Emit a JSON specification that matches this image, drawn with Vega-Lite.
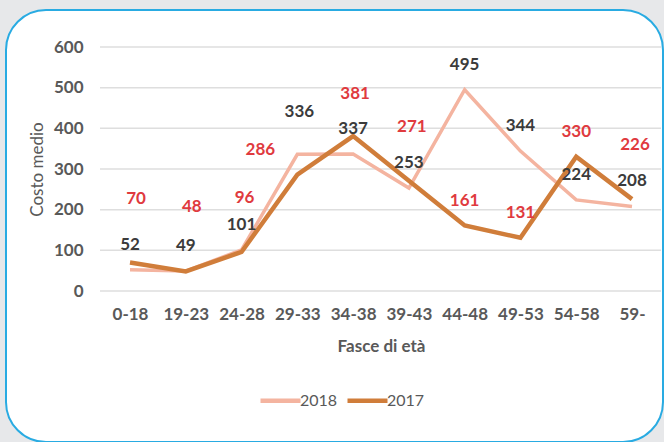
{
  "$schema": "https://vega.github.io/schema/vega-lite/v6.json",
  "autosize": {"type": "none"},
  "padding": {"left": 6, "top": 10, "right": 1, "bottom": 0},
  "width": 657,
  "height": 432,
  "background": "#e7e8ea",
  "config": {
    "view": {"fill": "white", "stroke": "#29abe2", "strokeWidth": 2, "cornerRadius": 40},
    "font": "Lato",
    "axis": {"grid": false, "domain": false, "ticks": false, "tickSize": 0, "labelFont": "Lato", "labelFontWeight": "bold", "labelFontSize": 17, "labelColor": "#595959", "titleFont": "Lato", "titleFontSize": 17, "titleColor": "#595959"}
  },
  "data": {
    "values": [
      {"eta": "0-18", "anno": "2018", "costo": 52},
      {"eta": "19-23", "anno": "2018", "costo": 49},
      {"eta": "24-28", "anno": "2018", "costo": 101},
      {"eta": "29-33", "anno": "2018", "costo": 336},
      {"eta": "34-38", "anno": "2018", "costo": 337},
      {"eta": "39-43", "anno": "2018", "costo": 253},
      {"eta": "44-48", "anno": "2018", "costo": 495},
      {"eta": "49-53", "anno": "2018", "costo": 344},
      {"eta": "54-58", "anno": "2018", "costo": 224},
      {"eta": "59-", "anno": "2018", "costo": 208},
      {"eta": "0-18", "anno": "2017", "costo": 70},
      {"eta": "19-23", "anno": "2017", "costo": 48},
      {"eta": "24-28", "anno": "2017", "costo": 96},
      {"eta": "29-33", "anno": "2017", "costo": 286},
      {"eta": "34-38", "anno": "2017", "costo": 381},
      {"eta": "39-43", "anno": "2017", "costo": 271},
      {"eta": "44-48", "anno": "2017", "costo": 161},
      {"eta": "49-53", "anno": "2017", "costo": 131},
      {"eta": "54-58", "anno": "2017", "costo": 330},
      {"eta": "59-", "anno": "2017", "costo": 226}
    ]
  },
  "layer": [
    {
      "data": {"values": [{"g": 0}, {"g": 100}, {"g": 200}, {"g": 300}, {"g": 400}, {"g": 500}, {"g": 600}]},
      "mark": {"type": "rule", "color": "#dedede", "strokeWidth": 1.5, "xOffset": -30, "x2Offset": 29},
      "encoding": {
        "x": {"datum": "0-18", "type": "nominal", "title": "Fasce di età"},
        "x2": {"datum": "59-"},
        "y": {"field": "g", "type": "quantitative", "title": "Costo medio"}
      }
    },
    {
      "transform": [{"filter": "datum.anno == '2018'"}],
      "mark": {"type": "line", "strokeWidth": 3.5},
      "encoding": {
        "x": {"field": "eta", "type": "nominal", "title": "Fasce di età",
              "scale": {"type": "point", "domain": ["0-18", "19-23", "24-28", "29-33", "34-38", "39-43", "44-48", "49-53", "54-58", "59-"], "range": [124, 626], "padding": 0},
              "axis": {"orient": "bottom", "offset": -151, "labelAngle": 0, "labelAlign": "center", "labelPadding": 23, "titlePadding": 16, "titleFontWeight": "bold"}},
        "y": {"field": "costo", "type": "quantitative", "title": "Costo medio",
              "scale": {"domain": [0, 600], "range": [281, 37], "nice": false},
              "axis": {"orient": "left", "offset": -77, "labelPadding": 0, "values": [0, 100, 200, 300, 400, 500, 600], "titlePadding": 7, "titleFontWeight": "normal"}},
        "color": {"field": "anno", "type": "nominal",
                  "scale": {"domain": ["2018", "2017"], "range": ["#f4b4a0", "#d07d3a"]},
                  "legend": {"orient": "none", "legendX": 252, "legendY": 368, "direction": "horizontal", "title": null, "symbolType": "stroke", "symbolSize": 1600, "symbolStrokeWidth": 4.5, "labelFont": "Lato", "labelFontSize": 16, "labelColor": "#595959", "labelOffset": -3, "columnPadding": 0}}
      }
    },
    {
      "transform": [{"filter": "datum.anno == '2017'"}],
      "mark": {"type": "line", "strokeWidth": 4.5},
      "encoding": {
        "x": {"field": "eta", "type": "nominal", "title": "Fasce di età"},
        "y": {"field": "costo", "type": "quantitative", "title": "Costo medio"},
        "color": {"field": "anno", "type": "nominal"}
      }
    },
    {
      "transform": [{"filter": "datum.anno == '2018' && datum.eta != '29-33'"}],
      "mark": {"type": "text", "font": "Lato", "fontWeight": "bold", "fontSize": 17, "color": "#3b3b3b", "baseline": "middle", "dy": -25},
      "encoding": {
        "x": {"field": "eta", "type": "nominal", "title": "Fasce di età"},
        "y": {"field": "costo", "type": "quantitative", "title": "Costo medio"},
        "text": {"field": "costo", "type": "quantitative"}
      }
    },
    {
      "transform": [{"filter": "datum.anno == '2018' && datum.eta == '29-33'"}],
      "mark": {"type": "text", "font": "Lato", "fontWeight": "bold", "fontSize": 17, "color": "#3b3b3b", "baseline": "middle", "dy": -42, "dx": 2},
      "encoding": {
        "x": {"field": "eta", "type": "nominal", "title": "Fasce di età"},
        "y": {"field": "costo", "type": "quantitative", "title": "Costo medio"},
        "text": {"field": "costo", "type": "quantitative"}
      }
    },
    {
      "transform": [{"filter": {"and": [{"field": "anno", "equal": "2017"}, {"field": "eta", "oneOf": ["44-48", "49-53", "54-58"]}]}}],
      "mark": {"type": "text", "font": "Lato", "fontWeight": "bold", "fontSize": 17, "color": "#e03a3e", "baseline": "middle", "dy": -25},
      "encoding": {
        "x": {"field": "eta", "type": "nominal", "title": "Fasce di età"},
        "y": {"field": "costo", "type": "quantitative", "title": "Costo medio"},
        "text": {"field": "costo", "type": "quantitative"}
      }
    },
    {
      "transform": [{"filter": {"and": [{"field": "anno", "equal": "2017"}, {"field": "eta", "oneOf": ["29-33"]}]}}],
      "mark": {"type": "text", "font": "Lato", "fontWeight": "bold", "fontSize": 17, "color": "#e03a3e", "baseline": "middle", "dy": -25, "dx": -37},
      "encoding": {
        "x": {"field": "eta", "type": "nominal", "title": "Fasce di età"},
        "y": {"field": "costo", "type": "quantitative", "title": "Costo medio"},
        "text": {"field": "costo", "type": "quantitative"}
      }
    },
    {
      "transform": [{"filter": {"and": [{"field": "anno", "equal": "2017"}, {"field": "eta", "oneOf": ["34-38"]}]}}],
      "mark": {"type": "text", "font": "Lato", "fontWeight": "bold", "fontSize": 17, "color": "#e03a3e", "baseline": "middle", "dy": -42, "dx": 2},
      "encoding": {
        "x": {"field": "eta", "type": "nominal", "title": "Fasce di età"},
        "y": {"field": "costo", "type": "quantitative", "title": "Costo medio"},
        "text": {"field": "costo", "type": "quantitative"}
      }
    },
    {
      "transform": [{"filter": {"and": [{"field": "anno", "equal": "2017"}, {"field": "eta", "oneOf": ["24-28", "39-43", "59-"]}]}}],
      "mark": {"type": "text", "font": "Lato", "fontWeight": "bold", "fontSize": 17, "color": "#e03a3e", "baseline": "middle", "dy": -54, "dx": 3},
      "encoding": {
        "x": {"field": "eta", "type": "nominal", "title": "Fasce di età"},
        "y": {"field": "costo", "type": "quantitative", "title": "Costo medio"},
        "text": {"field": "costo", "type": "quantitative"}
      }
    },
    {
      "transform": [{"filter": {"and": [{"field": "anno", "equal": "2017"}, {"field": "eta", "oneOf": ["0-18", "19-23"]}]}}],
      "mark": {"type": "text", "font": "Lato", "fontWeight": "bold", "fontSize": 17, "color": "#e03a3e", "baseline": "middle", "dy": -64, "dx": 6},
      "encoding": {
        "x": {"field": "eta", "type": "nominal", "title": "Fasce di età"},
        "y": {"field": "costo", "type": "quantitative", "title": "Costo medio"},
        "text": {"field": "costo", "type": "quantitative"}
      }
    }
  ]
}
